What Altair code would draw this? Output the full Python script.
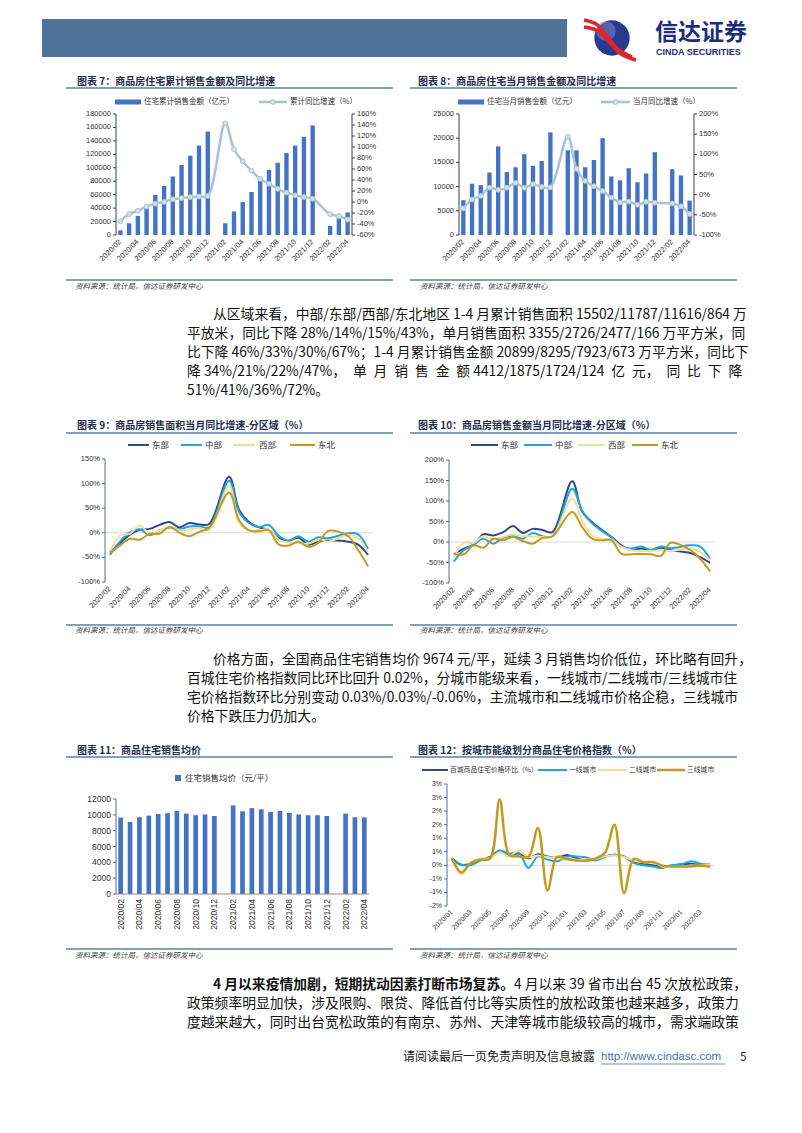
import altair as alt
import pandas as pd

W, H = 786, 1117
M = 8
CJK = "Noto Sans CJK SC"
LAT = "Liberation Sans"

# ---------------- data ----------------
months27 = ["2020/02", "2020/03", "2020/04", "2020/05", "2020/06", "2020/07", "2020/08", "2020/09", "2020/10",
            "2020/11", "2020/12", "2021/01", "2021/02", "2021/03", "2021/04", "2021/05", "2021/06", "2021/07",
            "2021/08", "2021/09", "2021/10", "2021/11", "2021/12", "2022/01", "2022/02", "2022/03", "2022/04"]
ticks27 = ["2020/02", "2020/04", "2020/06", "2020/08", "2020/10", "2020/12", "2021/02", "2021/04", "2021/06",
           "2021/08", "2021/10", "2021/12", "2022/02", "2022/04"]
months28 = ["2020/01", "2020/02", "2020/03", "2020/04", "2020/05", "2020/06", "2020/07", "2020/08", "2020/09",
            "2020/10", "2020/11", "2020/12", "2021/01", "2021/02", "2021/03", "2021/04", "2021/05", "2021/06",
            "2021/07", "2021/08", "2021/09", "2021/10", "2021/11", "2021/12", "2022/01", "2022/02", "2022/03",
            "2022/04"]
ticks28 = ["2020/01", "2020/03", "2020/05", "2020/07", "2020/09", "2020/11", "2021/01", "2021/03", "2021/05",
           "2021/07", "2021/09", "2021/11", "2022/01", "2022/03"]

# chart 7
cum_amount = [7000, 17400, 28400, 41000, 59500, 73000, 87000, 104000, 118000, 133000, 154000, None,
              17400, 35000, 49000, 64000, 82000, 97000, 107500, 122000, 133000, 146000, 163000, None,
              13500, 27500, 33500]
cum_yoy = [-35, -22, -16, -8.5, -3, 0, 5, 7, 9, 10, 11, None,
           143, 96, 74, 57, 42, 33, 24, 17, 12, 9, 6, None,
           -22, -26, -32]
c7_left = [0, 20000, 40000, 60000, 80000, 100000, 120000, 140000, 160000, 180000]
c7_left_lab = ["0", "20000", "40000", "60000", "80000", "100000", "120000", "140000", "160000", "180000"]
c7_right = [-60, -40, -20, 0, 20, 40, 60, 80, 100, 120, 140, 160]
c7_right_lab = ["-60%", "-40%", "-20%", "0%", "20%", "40%", "60%", "80%", "100%", "120%", "140%", "160%"]

# chart 8
mon_amount = [7200, 10600, 10300, 12900, 18300, 13000, 14000, 16700, 14300, 15300, 21200, None,
              17500, 17500, 14000, 15500, 20000, 12100, 11300, 13800, 10900, 12700, 17100, None,
              13600, 12300, 7100]
mon_yoy = [-34, -12, -3, 17, 12, 17, 29, 17, 26, 19, 18, None,
           144, 64, 34, 21, 9, -7, -19, -17, -25, -18, -20, None,
           -22, -29, -48]
c8_left = [0, 5000, 10000, 15000, 20000, 25000]
c8_left_lab = ["0", "5000", "10000", "15000", "20000", "25000"]
c8_right = [-100, -50, 0, 50, 100, 150, 200]
c8_right_lab = ["-100%", "-50%", "0%", "50%", "100%", "150%", "200%"]

# chart 9 (sales area yoy by region)
area_east = [-40, -21, -4, 6, 8, 16, 22, 11, 20, 17, 18, None, 114, 47, 22, 11, 6, -11, -16, -10, -24, -18, -16,
             None, -18, -24, -45]
area_central = [-45, -18, 1, 7, -5, 5, 11, 7, 13, 13, 11, None, 106, 43, 20, 12, 16, -6, -16, -7, -18, -9, -11,
                None, -1, -3, -33]
area_west = [-38, -6, -2, 15, -2, 5, 12, 5, 7, 10, 6, None, 96, 20, 5, 5, 7, -14, -20, -20, -22, -14, -18,
             None, -4, -11, -40]
area_ne = [-40, -26, -12, -14, -2, -2, 12, 0, -7, 2, 10, None, 82, 26, 5, 3, 5, -24, -26, -18, -29, -20, 4,
           None, -7, -35, -68]
c9_y = [-100, -50, 0, 50, 100, 150]
c9_y_lab = ["-100%", "-50%", "0%", "50%", "100%", "150%"]

# chart 10 (sales amount yoy by region)
amt_east = [-30, -16, -8, 19, 16, 24, 39, 22, 32, 29, 24, None, 148, 75, 49, 30, 12, -8, -19, -16, -20, -14, -20,
            None, -27, -37, -51]
amt_central = [-47, -20, -6, 8, -4, 10, 14, 8, 22, 14, 14, None, 130, 77, 46, 27, 11, -11, -16, -11, -19, -11, -15,
               None, -8, -11, -41]
amt_west = [-37, -2, -2, 14, 6, 12, 19, 14, 14, 12, 14, None, 106, 53, 16, 8, 6, -12, -20, -22, -22, -20, -22,
            None, -16, -24, -45]
amt_ne = [-29, -30, -8, -14, 8, 4, 12, 2, -4, 10, 14, None, 73, 37, 8, 4, 4, -29, -30, -29, -30, -34, -2,
          None, -20, -41, -72]
c10_y = [-100, -50, 0, 50, 100, 150, 200]
c10_y_lab = ["-100%", "-50%", "0%", "50%", "100%", "150%", "200%"]

# chart 11 (average price)
avg_price = [9650, 9100, 9700, 9900, 10100, 10200, 10500, 10150, 9950, 10050, 9850, None,
             11200, 10450, 10850, 10700, 10350, 10500, 10250, 10050, 9950, 9950, 9850, None,
             10150, 9700, 9674]
c11_y = [0, 2000, 4000, 6000, 8000, 10000, 12000]
c11_y_lab = ["0", "2000", "4000", "6000", "8000", "10000", "12000"]

# chart 12 (price index mom by tier)
idx100 = [0.27, 0.02, 0.06, 0.21, 0.31, 0.54, 0.39, 0.43, 0.26, 0.41, 0.33, 0.27, 0.38, 0.27, 0.18, 0.23, 0.33,
          0.39, 0.33, 0.15, 0.06, 0.0, -0.04, -0.01, 0.04, 0.06, 0.01, 0.02]
tier1 = [0.21, 0.02, 0.01, 0.18, 0.27, 0.55, 0.43, 0.46, -0.10, 0.33, 0.21, 0.15, 0.31, 0.33, 0.30, 0.18, 0.31,
         0.39, 0.31, 0.09, 0.0, -0.04, -0.10, 0.0, 0.04, 0.15, 0.06, 0.03]
tier2 = [0.31, -0.34, 0.11, 0.26, 0.26, 0.48, 0.33, 0.55, 0.30, 0.36, 0.31, 0.26, 0.25, 0.21, 0.21, 0.23, 0.33,
         0.36, 0.31, 0.18, 0.11, 0.11, -0.04, -0.04, -0.05, -0.01, -0.01, 0.03]
tier3 = [0.27, -0.26, 0.09, 0.21, 0.25, 2.43, 0.39, 0.33, 0.31, 1.38, -0.92, 0.31, 0.23, 0.18, 0.18, 0.25, 0.46,
         1.50, -1.02, 0.23, 0.12, 0.12, -0.01, -0.04, -0.04, -0.04, -0.01, -0.06]
c12_y = [-1.5, -1.0, -0.5, 0.0, 0.5, 1.0, 1.5, 2.0, 2.5, 3.0]
c12_y_lab = ["-2%", "-1%", "-1%", "0%", "1%", "1%", "2%", "2%", "3%", "3%"]

# ---------------- text ----------------
titles = [
    (77, 82, "图表 7：商品房住宅累计销售金额及同比增速"),
    (418, 82, "图表 8：商品房住宅当月销售金额及同比增速"),
    (77, 426, "图表 9：商品房销售面积当月同比增速-分区域（%）"),
    (418, 426, "图表 10：商品房销售金额当月同比增速-分区域（%）"),
    (77, 751, "图表 11：商品住宅销售均价"),
    (418, 751, "图表 12：按城市能级划分商品住宅价格指数（%）"),
]
SRC = "资料来源：统计局，信达证券研发中心"
sources = [(75, 287, SRC), (420, 287, SRC), (75, 631, SRC), (420, 631, SRC), (75, 956, SRC), (420, 956, SRC)]

E = "\u2002"
para = [
    (213, 315, "从区域来看，中部/东部/西部/东北地区 1-4 月累计销售面积 15502/11787/11616/864 万"),
    (187, 334, "平放米，同比下降 28%/14%/15%/43%，单月销售面积 3355/2726/2477/166 万平方米，同"),
    (187, 353, "比下降 46%/33%/30%/67%；1-4 月累计销售金额 20899/8295/7923/673 万平方米，同比下"),
    (187, 372, "降 34%/21%/22%/47%，" + E + "单" + E + "月" + E + "销" + E + "售" + E + "金" + E + "额 4412/1875/1724/124"
     + E + "亿" + E + "元，" + E + "同" + E + "比" + E + "下" + E + "降"),
    (187, 391, "51%/41%/36%/72%。"),
    (213, 660, "价格方面，全国商品住宅销售均价 9674 元/平，延续 3 月销售均价低位，环比略有回升，"),
    (187, 679, "百城住宅价格指数同比环比回升 0.02%，分城市能级来看，一线城市/二线城市/三线城市住"),
    (187, 698, "宅价格指数环比分别变动 0.03%/0.03%/-0.06%，主流城市和二线城市价格企稳，三线城市"),
    (187, 717, "价格下跌压力仍加大。"),
    (514, 985, "4 月以来 39 省市出台 45 次放松政策，"),
    (187, 1004, "政策频率明显加快，涉及限购、限贷、降低首付比等实质性的放松政策也越来越多，政策力"),
    (187, 1023, "度越来越大，同时出台宽松政策的有南京、苏州、天津等城市能级较高的城市，需求端政策"),
]
para_bold = [(213, 985, "4 月以来疫情加剧，短期扰动因素打断市场复苏。")]

# ---------------- colours ----------------
BAR = "#4472C4"
LBLUE = "#A3C2E6"
C_E, C_C, C_W, C_N = "#2F4B87", "#22A5DD", "#F4DD98", "#C39A1E"
RULE = "#5B7FA8"
AX = "#4A6FA8"
TXT = "#333333"
PFS = 13.8


# ---------------- helpers ----------------
def PX(f="x"):
    return alt.X(f + ":Q", scale=alt.Scale(domain=[M, M + W], range=[0, W], nice=False, zero=False), axis=None)


def PY(f="y"):
    return alt.Y(f + ":Q", scale=alt.Scale(domain=[M, M + H], range=[0, H], nice=False, zero=False), axis=None)


def text_layer(rows, **kw):
    kw.setdefault("font", CJK)
    kw.setdefault("baseline", "middle")
    kw.setdefault("align", "left")
    df = pd.DataFrame(rows, columns=["x", "y", "t"])
    return alt.Chart(df).mark_text(**kw).encode(x=PX("x"), y=PY("y"), text="t:N")


def seg_layer(rows, **kw):
    df = pd.DataFrame(rows, columns=["x", "y", "x2", "y2"])
    return alt.Chart(df).mark_rule(**kw).encode(x=PX("x"), y=PY("y"), x2=alt.X2("x2"), y2=alt.Y2("y2"))


def rect_layer(rows, **kw):
    df = pd.DataFrame(rows, columns=["x", "y", "x2", "y2"])
    return alt.Chart(df).mark_rect(**kw).encode(x=PX("x"), y=PY("y"), x2=alt.X2("x2"), y2=alt.Y2("y2"))


def band(dom, x0, x1):
    return alt.Scale(type="band", domain=dom, range=[x0 - M, x1 - M], paddingInner=0.5, paddingOuter=0.25)


def pt(dom, x0, x1):
    return alt.Scale(type="point", domain=dom, range=[x0 - M, x1 - M], padding=0.5)


def lin(lo, hi, ybot, ytop):
    return alt.Scale(domain=[lo, hi], range=[ybot - M, ytop - M], nice=False, zero=False)


def sdf(cats, vals):
    return pd.DataFrame([{"m": c, "v": v} for c, v in zip(cats, vals) if v is not None])


def bars(cats, vals, xs, ys, color):
    return alt.Chart(sdf(cats, vals)).mark_bar(color=color).encode(
        x=alt.X("m:N", scale=xs, axis=None), y=alt.Y("v:Q", scale=ys, axis=None))


def curve(cats, vals, xs, ys, color, sw=2.0):
    return alt.Chart(sdf(cats, vals)).mark_line(color=color, strokeWidth=sw, interpolate="catmull-rom").encode(
        x=alt.X("m:N", scale=xs, axis=None), y=alt.Y("v:Q", scale=ys, axis=None))


def dots(cats, vals, xs, ys):
    return alt.Chart(sdf(cats, vals)).mark_point(shape="circle", size=24, fill="#DCE6BE", stroke=LBLUE,
                                                 strokeWidth=1, opacity=1, fillOpacity=1).encode(
        x=alt.X("m:N", scale=xs, axis=None), y=alt.Y("v:Q", scale=ys, axis=None))


def yaxis(vals, labels, ys, ax_x, side, y_top, y_bot, size, color=AX):
    out = [alt.Chart(pd.DataFrame({"a": [0]})).mark_rule(color=color, strokeWidth=1).encode(
        x=alt.value(ax_x - M), y=alt.value(y_top - M), y2=alt.value(y_bot - M))]
    d = pd.DataFrame({"v": vals, "t": labels})
    t2 = ax_x - 3 if side == "left" else ax_x + 3
    out.append(alt.Chart(d).mark_rule(color=color, strokeWidth=1).encode(
        x=alt.value(ax_x - M), x2=alt.value(t2 - M), y=alt.Y("v:Q", scale=ys, axis=None)))
    lx = ax_x - 5 if side == "left" else ax_x + 5
    out.append(alt.Chart(d).mark_text(align="right" if side == "left" else "left", baseline="middle", font=LAT,
                                      fontSize=size, color=TXT).encode(
        x=alt.value(lx - M), y=alt.Y("v:Q", scale=ys, axis=None), text="t:N"))
    return out


def xlabels(labels, xs, y, angle, size):
    return alt.Chart(pd.DataFrame({"m": labels})).mark_text(angle=angle, align="right", baseline="middle", font=LAT,
                                                           fontSize=size, color=TXT).encode(
        x=alt.X("m:N", scale=xs, axis=None), y=alt.value(y - M), text="m:N")


def hline(v, ys, x0, x1, color="#D9D9D9"):
    return alt.Chart(pd.DataFrame({"v": [v]})).mark_rule(color=color, strokeWidth=1).encode(
        x=alt.value(x0 - M), x2=alt.value(x1 - M), y=alt.Y("v:Q", scale=ys, axis=None))


layers = []

# ---------------- header ----------------
layers.append(rect_layer([(42, 19, 567, 57)], color="#4E7299"))
layers.append(alt.Chart(pd.DataFrame({"x": [612], "y": [38]})).mark_circle(size=1250, color="#2A3B8F", opacity=1)
              .encode(x=PX("x"), y=PY("y")))
layers.append(alt.Chart(pd.DataFrame({"x": [606], "y": [31]})).mark_circle(size=380, color="#6F82C8", opacity=0.6)
              .encode(x=PX("x"), y=PY("y")))
rib = pd.DataFrame({"x": [584, 596, 607, 618, 632, 584, 598, 610, 621, 636],
                    "y": [20, 24, 36, 49, 57, 27, 31, 43, 54, 60],
                    "k": ["a"] * 5 + ["b"] * 5, "o": list(range(5)) * 2})
layers.append(alt.Chart(rib).mark_line(color="#E0242B", strokeWidth=3.5, interpolate="catmull-rom")
              .encode(x=PX("x"), y=PY("y"), detail="k:N", order="o:Q"))
layers.append(text_layer([(655, 33, "信达证券")], fontSize=23, fontWeight="bold", color="#1E2B7E"))
layers.append(text_layer([(656, 51.5, "CINDA SECURITIES")], font=LAT, fontSize=9, fontWeight="bold",
                         color="#1E2B7E"))

# ---------------- titles, rules, sources ----------------
layers.append(text_layer(titles, fontSize=10, fontWeight="bold", color="#1F2D4E"))
layers.append(seg_layer([(66, 88, 393, 88), (410, 88, 737, 88), (66, 433, 393, 433), (410, 433, 737, 433),
                         (66, 757, 393, 757), (410, 757, 737, 757)], color=RULE, strokeWidth=1.5))
layers.append(seg_layer([(66, 280, 393, 280), (410, 280, 737, 280), (66, 625, 393, 625), (410, 625, 737, 625),
                         (66, 949, 393, 949), (410, 949, 737, 949)], color=RULE, strokeWidth=1.5))
layers.append(text_layer(sources, fontSize=7.5, fontStyle="italic", color="#444444"))

# ---------------- paragraphs & footer ----------------
layers.append(text_layer(para, fontSize=PFS, color="#111111"))
layers.append(text_layer(para_bold, fontSize=PFS, fontWeight="bold", color="#111111"))
layers.append(text_layer([(403, 1057, "请阅读最后一页免责声明及信息披露"), (740, 1057, "5")], fontSize=12,
                         color="#222222"))
layers.append(text_layer([(601, 1057, "http://www.cindasc.com")], font=LAT, fontSize=11.5, color="#3F6FC0"))
layers.append(seg_layer([(601, 1064, 725, 1064)], color="#3F6FC0", strokeWidth=0.8))

# ---------------- chart 7 ----------------
xb7 = band(months27, 116, 352)
xp7 = pt(months27, 116, 352)
yl7 = lin(0, 180000, 235, 114)
yr7 = lin(-60, 160, 235, 114)
layers.append(bars(months27, cum_amount, xb7, yl7, BAR))
layers.append(curve(months27, cum_yoy, xp7, yr7, LBLUE, 2.5))
layers.append(dots(months27, cum_yoy, xp7, yr7))
layers += yaxis(c7_left, c7_left_lab, yl7, 116, "left", 114, 235, 7.5, "#2F3F60")
layers += yaxis(c7_right, c7_right_lab, yr7, 352, "right", 114, 235, 7.5, "#2F3F60")
layers.append(xlabels(ticks27, xp7, 241, 315, 7.5))
layers.append(rect_layer([(115, 99.5, 141, 104.5), (458, 99.5, 484, 104.5)], color=BAR))
layers.append(seg_layer([(259, 102, 287, 102), (601, 102, 630, 102)], color=LBLUE, strokeWidth=2.5))
layers.append(alt.Chart(pd.DataFrame({"x": [273, 615.5], "y": [102, 102]}))
              .mark_point(shape="circle", size=24, fill="#DCE6BE", stroke=LBLUE, strokeWidth=1, opacity=1)
              .encode(x=PX("x"), y=PY("y")))
layers.append(text_layer([(144, 102, "住宅累计销售金额（亿元）"), (290, 102, "累计同比增速（%）"),
                          (487, 102, "住宅当月销售金额（亿元）"), (633, 102, "当月同比增速（%）")],
                         fontSize=7.5, color=TXT))

# ---------------- chart 8 ----------------
xb8 = band(months27, 459, 694)
xp8 = pt(months27, 459, 694)
yl8 = lin(0, 25000, 235, 114)
yr8 = lin(-100, 200, 235, 114)
layers.append(bars(months27, mon_amount, xb8, yl8, BAR))
layers.append(curve(months27, mon_yoy, xp8, yr8, LBLUE, 2.5))
layers.append(dots(months27, mon_yoy, xp8, yr8))
layers += yaxis(c8_left, c8_left_lab, yl8, 459, "left", 114, 235, 7.5, "#2F3F60")
layers += yaxis(c8_right, c8_right_lab, yr8, 694, "right", 114, 235, 7.5, "#2F3F60")
layers.append(xlabels(ticks27, xp8, 241, 315, 7.5))

# ---------------- chart 9 ----------------
xp9 = pt(months27, 105, 373)
y9 = lin(-100, 150, 582, 459)
layers.append(hline(0, y9, 105, 373))
for vals, col in [(area_east, C_E), (area_central, C_C), (area_west, C_W), (area_ne, C_N)]:
    layers.append(curve(months27, vals, xp9, y9, col, 2.0))
layers += yaxis(c9_y, c9_y_lab, y9, 105, "left", 459, 582, 7.5)
layers.append(xlabels(ticks27, xp9, 588, 315, 7.5))

# ---------------- chart 10 ----------------
xp10 = pt(months27, 449, 715)
y10 = lin(-100, 200, 583, 460)
layers.append(hline(0, y10, 449, 715))
for vals, col in [(amt_east, C_E), (amt_central, C_C), (amt_west, C_W), (amt_ne, C_N)]:
    layers.append(curve(months27, vals, xp10, y10, col, 2.0))
layers += yaxis(c10_y, c10_y_lab, y10, 449, "left", 460, 583, 7.5)
layers.append(xlabels(ticks27, xp10, 589, 315, 7.5))

# legends 9 / 10
leg_segs = {C_E: [(128, 445, 149, 445), (471, 445, 498, 445)],
            C_C: [(181, 445, 202, 445), (524, 445, 552, 445)],
            C_W: [(233, 445, 255, 445), (578, 445, 605, 445)],
            C_N: [(290, 445, 315, 445), (632, 445, 658, 445)]}
for col, segs in leg_segs.items():
    layers.append(seg_layer(segs, color=col, strokeWidth=2))
layers.append(text_layer([(152, 445, "东部"), (205, 445, "中部"), (259, 445, "西部"), (318, 445, "东北"),
                          (501, 445, "东部"), (555, 445, "中部"), (608, 445, "西部"), (661, 445, "东北")],
                         fontSize=8.5, color=TXT))

# ---------------- chart 11 ----------------
xb11 = band(months27, 116, 369)
xp11 = pt(months27, 116, 369)
y11 = lin(0, 12000, 894, 799)
layers.append(bars(months27, avg_price, xb11, y11, BAR))
layers += yaxis(c11_y, c11_y_lab, y11, 116, "left", 799, 894, 8.5)
layers.append(seg_layer([(116, 894, 369, 894)], color="#8C8C8C", strokeWidth=1))
layers.append(xlabels(ticks27, xp11, 899, 270, 8.5))
layers.append(rect_layer([(175, 775, 181, 781)], color=BAR))
layers.append(text_layer([(185, 778, "住宅销售均价（元/平）")], fontSize=8.5, color=TXT))

# ---------------- chart 12 ----------------
xp12 = pt(months28, 447, 715)
y12 = lin(-1.5, 3.0, 906, 784)
layers.append(hline(0, y12, 447, 715))
layers.append(curve(months28, idx100, xp12, y12, C_E, 2.0))
layers.append(curve(months28, tier1, xp12, y12, C_C, 2.0))
layers.append(curve(months28, tier2, xp12, y12, C_W, 2.0))
layers.append(curve(months28, tier3, xp12, y12, C_N, 2.5))
layers += yaxis(c12_y, c12_y_lab, y12, 447, "left", 784, 906, 7)
layers.append(xlabels(ticks28, xp12, 911, 315, 7))
layers.append(seg_layer([(422, 770, 448, 770)], color=C_E, strokeWidth=2))
layers.append(seg_layer([(538, 770, 567, 770)], color=C_C, strokeWidth=2))
layers.append(seg_layer([(598, 770, 627, 770)], color=C_W, strokeWidth=2))
layers.append(seg_layer([(657, 770, 685, 770)], color=C_N, strokeWidth=2.5))
layers.append(text_layer([(450, 770, "百城商品住宅价格环比（%）"), (569, 770, "一线城市"), (629, 770, "二线城市"),
                          (687, 770, "三线城市")], fontSize=6.8, color=TXT))

chart = alt.layer(*layers).properties(
    width=W, height=H, padding=0, background="white",
    autosize=alt.AutoSizeParams(type="none"),
).resolve_scale(x="independent", y="independent").configure_view(stroke=None)

chart.save("out.html", embed_options={"renderer": "svg", "actions": False})
